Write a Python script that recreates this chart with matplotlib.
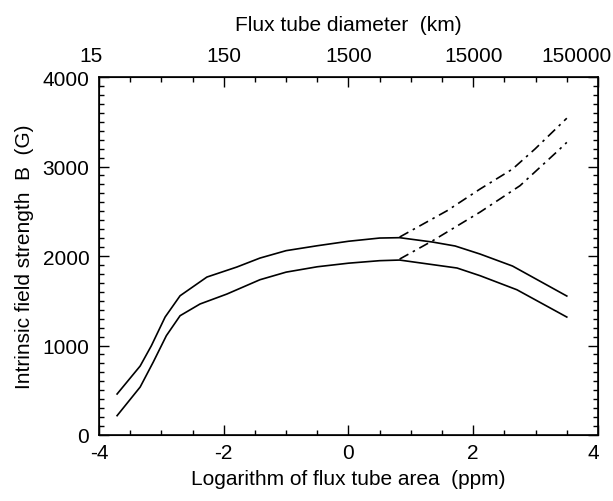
import matplotlib
matplotlib.use("Agg")
import matplotlib.pyplot as plt
from matplotlib.ticker import MultipleLocator
from matplotlib.transforms import ScaledTranslation

plt.rcParams['font.family'] = ['Liberation Sans', 'DejaVu Sans']
plt.rcParams['axes.unicode_minus'] = False

# solid curves (log area in ppm, field strength in G)
x_solid = [-3.71, -3.34, -3.16, -2.94, -2.70, -2.27, -1.79, -1.42, -1.0, -0.5, 0.0, 0.5, 0.82, 1.35, 1.71, 2.11, 2.63, 3.50]
b_upper = [458, 771, 998, 1318, 1556, 1765, 1877, 1977, 2060, 2115, 2165, 2201, 2205, 2156, 2112, 2022, 1888, 1553]

x_lower = [-3.71, -3.34, -3.13, -2.92, -2.70, -2.38, -1.95, -1.42, -1.0, -0.5, 0.0, 0.5, 0.82, 1.74, 2.11, 2.70, 3.50]
b_lower = [216, 536, 815, 1110, 1333, 1464, 1575, 1735, 1820, 1880, 1920, 1948, 1955, 1866, 1780, 1623, 1318]

# dash-dot branches
x_dd_upper = [0.82, 1.58, 2.11, 2.63, 2.99, 3.50]
b_dd_upper = [2212, 2506, 2749, 2972, 3196, 3540]
x_dd_lower = [0.82, 1.35, 2.11, 2.75, 3.36, 3.50]
b_dd_lower = [1966, 2171, 2491, 2786, 3177, 3270]

bottom_ticks = [-4, -2, 0, 2, 4]
top_labels = ['15', '150', '1500', '15000', '150000']

fig = plt.figure(figsize=(6.13, 5.02), dpi=100)
ax = fig.add_axes([0.1615, 0.1315, 0.814, 0.713])

ax.plot(x_solid, b_upper, color='black', lw=1.2)
ax.plot(x_lower, b_lower, color='black', lw=1.2)
ax.plot(x_dd_upper, b_dd_upper, color='black', lw=1.2, dashes=(6, 3, 1.5, 3))
ax.plot(x_dd_lower, b_dd_lower, color='black', lw=1.2, dashes=(6, 3, 1.5, 3))

ax.set_xlim(-4, 4)
ax.set_ylim(0, 4000)
ax.set_xticks(bottom_ticks)
ax.xaxis.set_minor_locator(MultipleLocator(0.5))
ax.set_yticks([0, 1000, 2000, 3000, 4000])
ax.yaxis.set_minor_locator(MultipleLocator(100))
ax.tick_params(which='both', direction='in', top=False, right=True, labelsize=15, width=1)
ax.tick_params(which='major', length=7)
ax.tick_params(which='minor', length=3.5)
ax.tick_params(axis='x', pad=6)
ax.tick_params(axis='y', pad=7)

for s in ax.spines.values():
    s.set_linewidth(1.2)

ax.set_xlabel('Logarithm of flux tube area  (ppm)', fontsize=15, labelpad=5)
ax.set_ylabel('Intrinsic field strength  B  (G)', fontsize=15, labelpad=6)

# top axis: flux tube diameter
ax2 = ax.twiny()
ax2.set_xlim(ax.get_xlim())
ax2.set_xticks(bottom_ticks)
ax2.set_xticklabels(top_labels)
ax2.xaxis.set_minor_locator(MultipleLocator(0.5))
ax2.tick_params(which='both', direction='in', labelsize=15, width=1)
ax2.tick_params(which='major', length=7, pad=9)
ax2.tick_params(which='minor', length=3.5)
ax2.set_xlabel('Flux tube diameter  (km)', fontsize=15, labelpad=11)

# end labels sit a little inside their ticks, as in the original
def nudge(lab, dx):
    lab.set_transform(lab.get_transform() + ScaledTranslation(dx, 0, fig.dpi_scale_trans))

top_lbls = ax2.get_xticklabels()
nudge(top_lbls[0], -0.08)
nudge(top_lbls[-1], -0.21)
bot_lbls = ax.get_xticklabels()
nudge(bot_lbls[-1], -0.05)

fig.savefig('out.png', dpi=100)
